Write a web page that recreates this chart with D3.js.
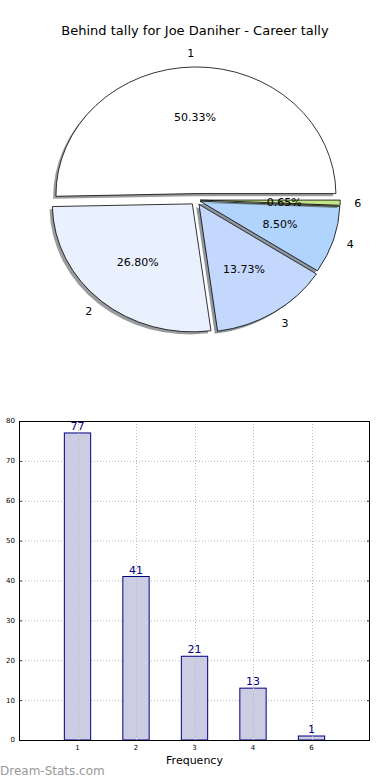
<!DOCTYPE html>
<html>
<head>
<meta charset="utf-8">
<script src="https://cdn.jsdelivr.net/npm/d3@7"></script>
<style>
  html, body { margin: 0; padding: 0; background: #fff; }
  svg { display: block; font-family: "DejaVu Sans", sans-serif; }
</style>
</head>
<body>
<svg id="chart" width="390" height="780"></svg>
<script>
// ---- data ----
const title = "Behind tally for Joe Daniher - Career tally";
const categories = ["1", "2", "3", "4", "6"];
const counts = [77, 41, 21, 13, 1];
const sliceColors = ["#ffffff", "#eaf1fe", "#c4d7fd", "#b1d4fe", "#c6e48a"];
const explode = [0.05, 0.04, 0.04, 0.03, 0.03];
const yTicks = [0, 10, 20, 30, 40, 50, 60, 70, 80];
const xLabel = "Frequency";
const watermark = "Dream-Stats.com";

const svg = d3.select("#chart");

// ---- title ----
svg.append("text").attr("x", 195).attr("y", 35).attr("text-anchor", "middle")
  .attr("font-size", 13).attr("fill", "#000").text(title);

// ---- pie (matplotlib style: ccw from 3 o'clock, elliptical) ----
const cx = 196, cy = 200, rx = 140, ry = 128;
const total = d3.sum(counts);
let theta = 0;
const slices = counts.map((v, i) => {
  const frac = v / total;
  const t1 = theta, t2 = theta + frac * 2 * Math.PI;
  theta = t2;
  const mid = (t1 + t2) / 2;
  const dx = explode[i] * Math.cos(mid) * rx;
  const dy = -explode[i] * Math.sin(mid) * ry;
  return { i, v, frac, t1, t2, mid, ox: cx + dx, oy: cy + dy };
});

const arc = d3.arc().innerRadius(0).outerRadius(1);
const pieG = svg.append("g");
slices.forEach(s => {
  const d = arc({ startAngle: Math.PI / 2 - s.t2, endAngle: Math.PI / 2 - s.t1 });
  const c = d3.rgb(sliceColors[s.i]);
  const shadowCol = d3.rgb(c.r * 0.3, c.g * 0.3, c.b * 0.3);
  pieG.append("path").attr("d", d)
    .attr("transform", `translate(${s.ox - 0.02 * rx},${s.oy + 0.02 * ry}) scale(${rx},${ry})`)
    .attr("fill", shadowCol).attr("fill-opacity", 0.55).attr("stroke", "none");
  pieG.append("path").attr("d", d)
    .attr("transform", `translate(${s.ox},${s.oy}) scale(${rx},${ry})`)
    .attr("fill", sliceColors[s.i]).attr("stroke", "#000")
    .attr("stroke-width", 0.8).attr("vector-effect", "non-scaling-stroke");
});
slices.forEach(s => {
  const lx = s.ox + 1.1 * Math.cos(s.mid) * rx;
  const ly = s.oy - 1.1 * Math.sin(s.mid) * ry;
  pieG.append("text").attr("x", lx).attr("y", ly).attr("dy", "0.35em")
    .attr("text-anchor", Math.cos(s.mid) > 0 ? "start" : "end")
    .attr("font-size", 11).attr("fill", "#000").text(categories[s.i]);
  const px = s.ox + 0.6 * Math.cos(s.mid) * rx;
  const py = s.oy - 0.6 * Math.sin(s.mid) * ry;
  pieG.append("text").attr("x", px).attr("y", py).attr("dy", "0.35em")
    .attr("text-anchor", "middle").attr("font-size", 11).attr("fill", "#000")
    .text((s.frac * 100).toFixed(2) + "%");
});

// ---- bar chart ----
const L = 19, R = 370, T = 421, B = 740;
const x = d3.scaleLinear().domain([0, categories.length + 1]).range([L, R]);
const y = d3.scaleLinear().domain([0, 80]).range([B, T]);
const barW = 0.45;
const bg = svg.append("g");

// horizontal grid (behind bars)
bg.append("g").selectAll("line").data(yTicks.filter(t => t > 0 && t < 80)).join("line")
  .attr("x1", L).attr("x2", R).attr("y1", d => y(d) + 0.5).attr("y2", d => y(d) + 0.5)
  .attr("stroke", "#b8b8b8").attr("stroke-width", 1).attr("stroke-dasharray", "1,2");

// bars
bg.append("g").selectAll("rect").data(counts).join("rect")
  .attr("x", (d, i) => x(i + 1 - barW / 2)).attr("width", x(barW) - x(0))
  .attr("y", d => y(d)).attr("height", d => B - y(d))
  .attr("fill", "#ccccE3").attr("stroke", "#000080").attr("stroke-width", 1);

// vertical grid (on top)
bg.append("g").selectAll("line").data(categories).join("line")
  .attr("x1", (d, i) => Math.round(x(i + 1)) + 0.5).attr("x2", (d, i) => Math.round(x(i + 1)) + 0.5)
  .attr("y1", T).attr("y2", B)
  .attr("stroke", "#b8b8b8").attr("stroke-width", 1).attr("stroke-dasharray", "1,2");

// value labels
bg.append("g").selectAll("text").data(counts).join("text")
  .attr("x", (d, i) => x(i + 1)).attr("y", d => y(d) - 3)
  .attr("text-anchor", "middle").attr("font-size", 11).attr("fill", "#000080").text(d => d);

// frame
bg.append("rect").attr("x", L + 0.5).attr("y", T + 0.5).attr("width", R - L - 1).attr("height", B - T)
  .attr("fill", "none").attr("stroke", "#000").attr("stroke-width", 1);

// y axis labels & ticks
const yAx = bg.append("g");
yTicks.forEach(t => {
  yAx.append("text").attr("x", 15).attr("y", y(t)).attr("dy", "0.35em")
    .attr("text-anchor", "end").attr("font-size", 7).attr("fill", "#000").text(t);
  yAx.append("line").attr("x1", L).attr("x2", L + 3).attr("y1", y(t) + 0.5).attr("y2", y(t) + 0.5)
    .attr("stroke", "#000").attr("stroke-width", 0.8);
  yAx.append("line").attr("x1", R - 3).attr("x2", R).attr("y1", y(t) + 0.5).attr("y2", y(t) + 0.5)
    .attr("stroke", "#000").attr("stroke-width", 0.8);
});
// x axis labels
categories.forEach((c, i) => {
  bg.append("text").attr("x", x(i + 1)).attr("y", B + 10)
    .attr("text-anchor", "middle").attr("font-size", 7).attr("fill", "#000").text(c);
});
bg.append("text").attr("x", (L + R) / 2).attr("y", B + 24).attr("text-anchor", "middle")
  .attr("font-size", 11).attr("fill", "#000").text(xLabel);

// watermark
svg.append("text").attr("x", 0).attr("y", 775).attr("font-size", 12)
  .attr("fill", "#999").text(watermark);
</script>
</body>
</html>
